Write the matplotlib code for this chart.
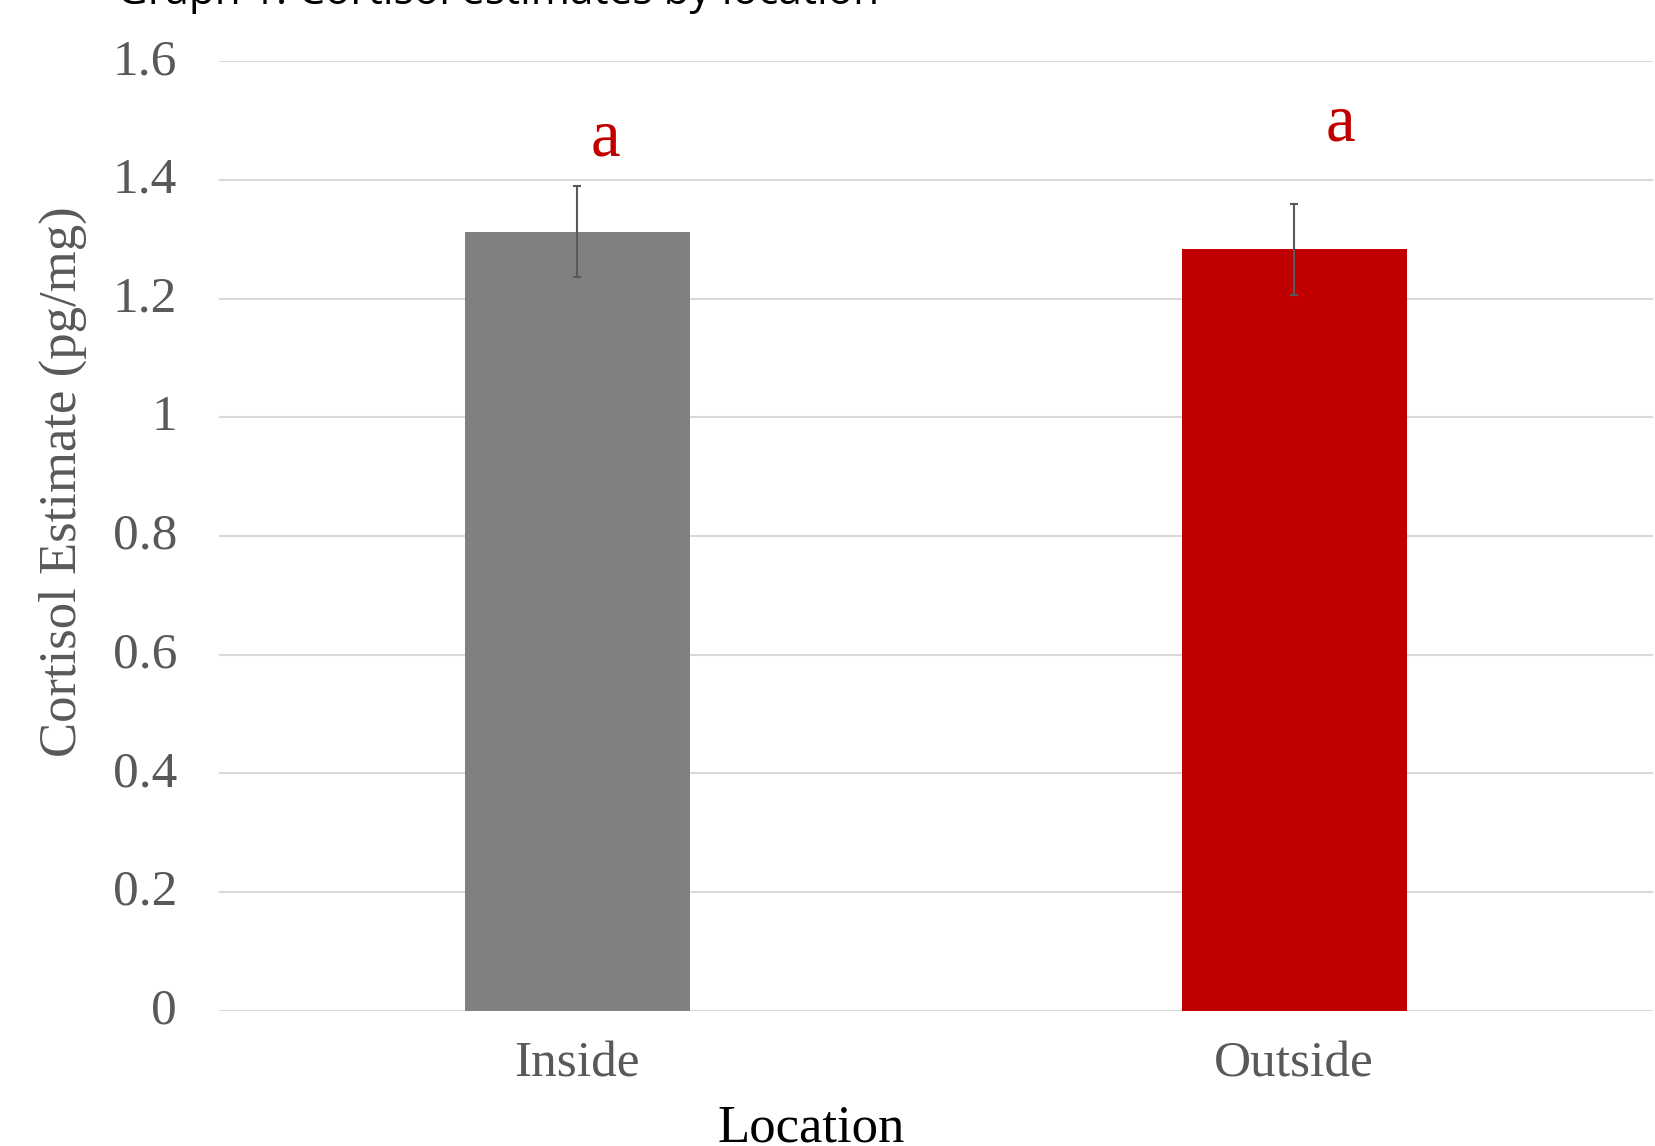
import matplotlib
matplotlib.use("Agg")
import matplotlib.pyplot as plt
from matplotlib.transforms import ScaledTranslation

# Data
locations = ["Inside", "Outside"]
cortisol = [1.313, 1.283]
cortisol_err = [0.077, 0.077]
letters = ["a", "a"]
letter_y = [1.441, 1.467]
bar_colors = ["#808080", "#C00000"]
yticks = [0, 0.2, 0.4, 0.6, 0.8, 1.0, 1.2, 1.4, 1.6]
ytick_labels = ["0", "0.2", "0.4", "0.6", "0.8", "1", "1.2", "1.4", "1.6"]

serif = ["Liberation Serif", "DejaVu Serif"]
tick_gray = "#595959"

fig = plt.figure(figsize=(16.56, 11.46), dpi=100)
ax = fig.add_axes([0.132, 0.1181, 0.866, 0.8284])

x = list(range(len(locations)))
ax.bar(x, cortisol, width=0.314, color=bar_colors, zorder=2)
ax.errorbar(x, cortisol, yerr=cortisol_err, fmt="none", ecolor="#595959",
            elinewidth=1.5, capsize=3, capthick=1.5, zorder=3)

for xi, lab, ly, off in zip(x, letters, letter_y, [0.04, 0.065]):
    ax.text(xi + off, ly, lab, ha="center", va="baseline", color="#C00000",
            fontsize=48, family=serif)

ax.set_xlim(-0.5, 1.5)
ax.set_ylim(0, 1.6)
ax.set_yticks(yticks)
ax.set_yticklabels(ytick_labels, family=serif, fontsize=37, color=tick_gray)
ax.set_xticks(x)
ax.set_xticklabels(locations, family=serif, fontsize=37, color=tick_gray)
ax.tick_params(axis="y", length=0, pad=30)
ax.tick_params(axis="x", length=0, pad=22)

# nudge the value labels up so they sit centred on their gridlines
lift = ScaledTranslation(0, 5 / 100, fig.dpi_scale_trans)
for lbl in ax.get_yticklabels():
    lbl.set_transform(lbl.get_transform() + lift)

ax.grid(axis="y", color="#d9d9d9", linewidth=1.5, zorder=0)
ax.set_axisbelow(True)
for side in ["top", "right", "left", "bottom"]:
    ax.spines[side].set_visible(False)

ax.set_ylabel("Cortisol Estimate (pg/mg)", family=serif, fontsize=38,
              color=tick_gray)
ax.yaxis.set_label_coords(-0.0915, 0.557)

fig.text(0.490, 0.0155, "Location", ha="center", va="center",
         family=serif, fontsize=38, color="black")

fig.text(0.0705, 1 - 4 / 1146, "Graph 1: Cortisol estimates by location",
         ha="left", va="baseline", family=["Open Sans", "DejaVu Sans"],
         fontsize=30.5, color="black")

fig.savefig("out.png", dpi=100)
